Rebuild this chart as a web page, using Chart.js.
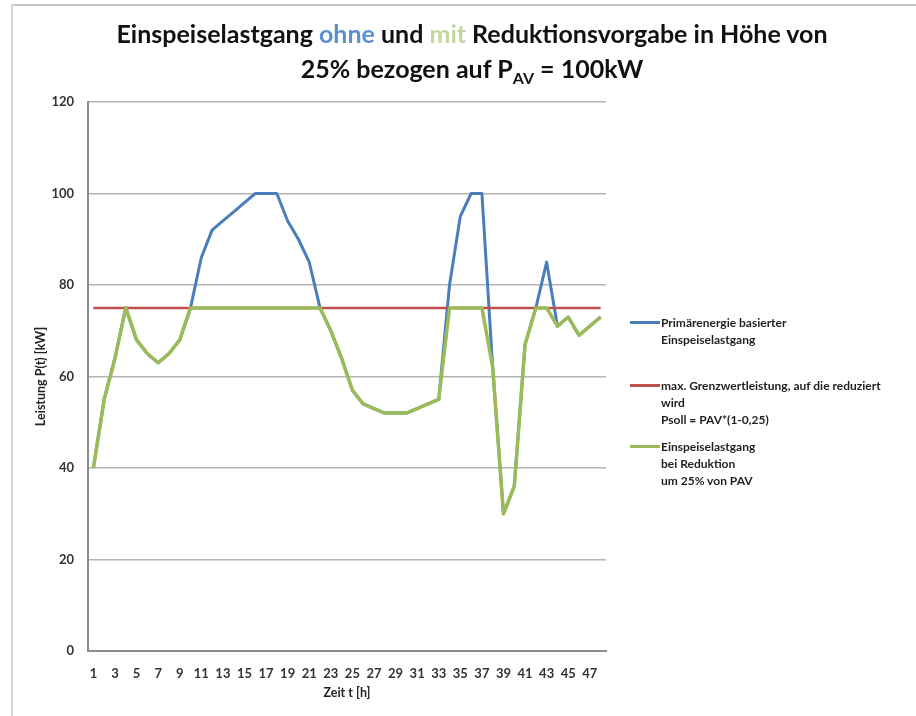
<!DOCTYPE html>
<html lang="de">
<head>
<meta charset="utf-8">
<title>Einspeiselastgang</title>
<script src="https://cdn.jsdelivr.net/npm/chart.js@4"></script>
<style>
    body { margin: 0; background: #fff; }
    #rahmen { position: relative; width: 916px; height: 716px; overflow: hidden; background: #fff; }
    #linie { position: absolute; left: 11px; top: 4px; width: 1000px; height: 1000px;
             border-left: 2px solid #d6d6d6; border-top: 2px solid #c9c9c9; }
    #titel { position: absolute; left: 0; top: 16px; width: 944px; text-align: center;
             font: bold 25px Lato, sans-serif; line-height: 35px; color: #111; }
    #titel .ohne { color: #5b8fd3; }
    #titel .mit { color: #c2d6a0; }
    #titel .sub { font-size: 16px; position: relative; top: 6px; }
    canvas { position: absolute; left: 0; top: 0; }
    .eintrag { position: absolute; left: 630px; font: bold 12px Lato, sans-serif; line-height: 17px; color: #1f1f1f; }
    .eintrag .probe { position: absolute; left: 0; top: 7px; width: 30px; height: 3px; }
    .eintrag .text { margin-left: 31px; white-space: nowrap; }
</style>
</head>
<body>
<div id="rahmen">
    <div id="linie"></div>
    <canvas id="chart" width="916" height="716"></canvas>
    <div id="titel">Einspeiselastgang <span class="ohne">ohne</span> und <span class="mit">mit</span> Reduktionsvorgabe in Höhe von<br>25% bezogen auf P<span class="sub">AV</span> = 100kW</div>
    <div id="legende"></div>
</div>
<script>
const stunden = ['1','2','3','4','5','6','7','8','9','10','11','12','13','14','15','16','17','18','19','20','21','22','23','24',
    '25','26','27','28','29','30','31','32','33','34','35','36','37','38','39','40','41','42','43','44','45','46','47','48'];

// Primärenergie basierter Einspeiselastgang (kW)
const leistungOhne = [40, 55, 64, 75, 68, 65, 63, 65, 68, 75, 86, 92, 94, 96, 98, 100, 100, 100, 94, 90, 85, 75, 70, 64,
    57, 54, 53, 52, 52, 52, 53, 54, 55, 80, 95, 100, 100, 62, 30, 36, 67, 75, 85, 71, 73, 69, 71, 73];

// max. Grenzwertleistung Psoll = PAV*(1-0,25)
const grenzwert = [75, 75, 75, 75, 75, 75, 75, 75, 75, 75, 75, 75, 75, 75, 75, 75, 75, 75, 75, 75, 75, 75, 75, 75,
    75, 75, 75, 75, 75, 75, 75, 75, 75, 75, 75, 75, 75, 75, 75, 75, 75, 75, 75, 75, 75, 75, 75, 75];

// Einspeiselastgang bei Reduktion
const leistungMit = [40, 55, 64, 75, 68, 65, 63, 65, 68, 75, 75, 75, 75, 75, 75, 75, 75, 75, 75, 75, 75, 75, 70, 64,
    57, 54, 53, 52, 52, 52, 53, 54, 55, 75, 75, 75, 75, 62, 30, 36, 67, 75, 75, 71, 73, 69, 71, 73];

const yTicks = [0, 20, 40, 60, 80, 100, 120];

const legendenTexte = [
    ['Primärenergie basierter', 'Einspeiselastgang'],
    ['max. Grenzwertleistung, auf die reduziert', 'wird', 'Psoll = PAV*(1-0,25)'],
    ['Einspeiselastgang', 'bei Reduktion', 'um 25% von PAV']
];

const farben = ['#4a7ebb', '#c0504d', '#9bbb59'];

const ctx = document.getElementById('chart').getContext('2d');
const chart = new Chart(ctx, {
    type: 'line',
    data: {
        labels: stunden,
        datasets: [
            { label: legendenTexte[0].join(' '), data: leistungOhne, borderColor: farben[0], borderWidth: 3, order: 3 },
            { label: legendenTexte[1].join(' '), data: grenzwert, borderColor: farben[1], borderWidth: 2.5, order: 2 },
            { label: legendenTexte[2].join(' '), data: leistungMit, borderColor: farben[2], borderWidth: 3.5, order: 1 }
        ]
    },
    options: {
        responsive: false,
        devicePixelRatio: 1,
        animation: false,
        layout: { padding: { left: 0, right: 310, top: 102, bottom: 0 } },
        elements: {
            point: { radius: 0, hoverRadius: 0 },
            line: { tension: 0, borderJoinStyle: 'round', borderCapStyle: 'butt', fill: false }
        },
        plugins: {
            legend: { display: false },
            tooltip: { enabled: false },
            title: { display: false }
        },
        scales: {
            x: {
                offset: true,
                grid: { display: false, drawTicks: false },
                border: { display: true, color: '#8c8c8c', width: 2 },
                ticks: {
                    autoSkip: false,
                    maxRotation: 0,
                    padding: 15,
                    color: '#333',
                    font: { family: 'Lato', size: 13, weight: 'bold' },
                    callback: function (wert, index) {
                        return index % 2 === 0 ? stunden[index] : '';
                    }
                },
                title: {
                    display: true,
                    text: 'Zeit t [h]',
                    color: '#222',
                    font: { family: 'Lato', size: 12.5, weight: 'bold' },
                    padding: { top: 0, bottom: 16 }
                },
                afterFit: function (scale) { scale.height = 65; }
            },
            y: {
                min: 0,
                max: 120,
                grid: { color: '#b4b4b4', lineWidth: 1.5, drawTicks: false },
                border: { display: true, color: '#8c8c8c', width: 2 },
                afterBuildTicks: function (scale) {
                    scale.ticks = yTicks.map(v => ({ value: v }));
                },
                ticks: {
                    padding: 14,
                    color: '#333',
                    font: { family: 'Lato', size: 13, weight: 'bold' }
                },
                title: {
                    display: true,
                    text: 'Leistung P(t) [kW]',
                    color: '#222',
                    font: { family: 'Lato', size: 12.5, weight: 'bold' },
                    padding: { top: 33, bottom: 0 }
                },
                afterFit: function (scale) { scale.width = 88; }
            }
        }
    }
});

// Legende rechts, mehrzeilig
const legendePositionen = [314, 377, 438];
const legende = document.getElementById('legende');
chart.data.datasets.forEach((ds, i) => {
    const eintrag = document.createElement('div');
    eintrag.className = 'eintrag';
    eintrag.style.top = legendePositionen[i] + 'px';
    const probe = document.createElement('span');
    probe.className = 'probe';
    probe.style.background = ds.borderColor;
    const text = document.createElement('div');
    text.className = 'text';
    text.innerHTML = legendenTexte[i].join('<br>');
    eintrag.appendChild(probe);
    eintrag.appendChild(text);
    legende.appendChild(eintrag);
});
</script>
</body>
</html>
